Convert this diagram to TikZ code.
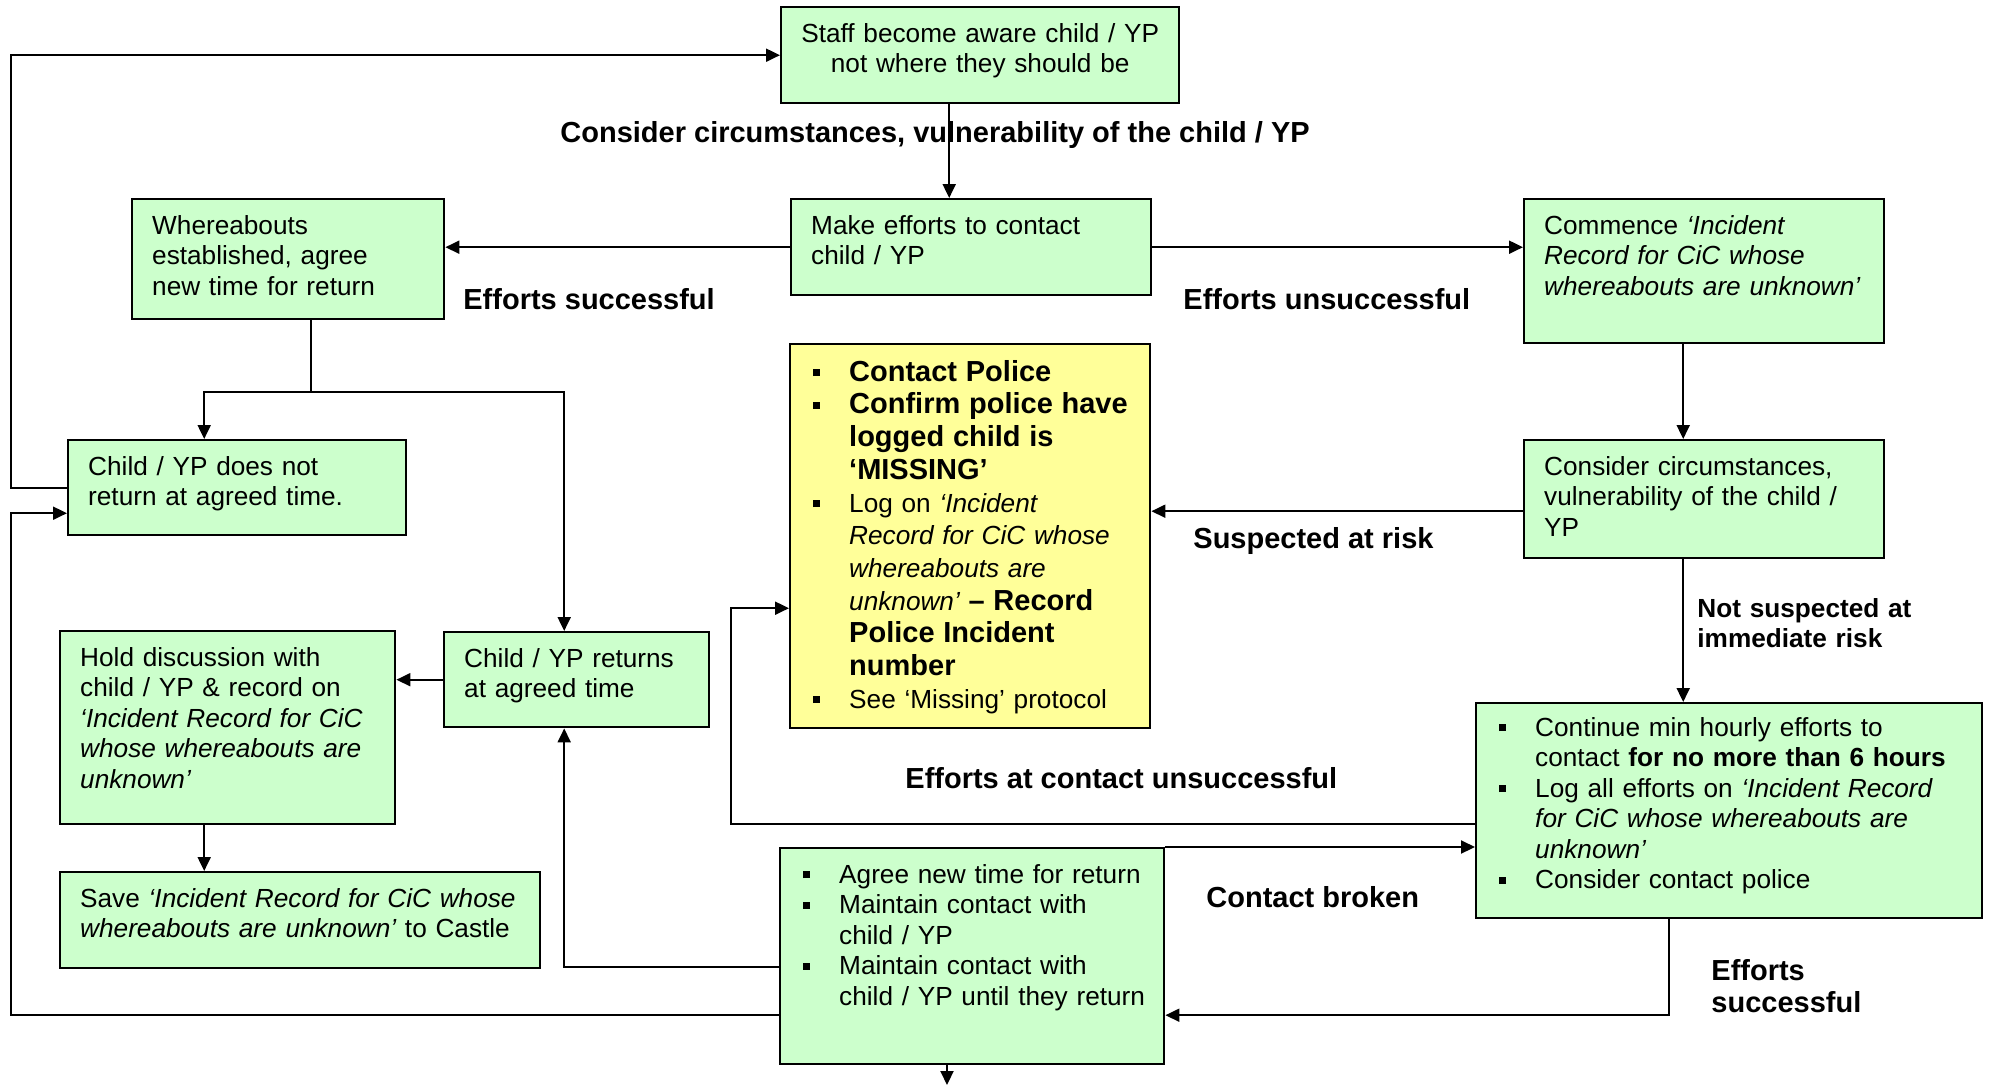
\documentclass[tikz,border=0pt]{standalone}
\usepackage{fontspec}
\setmainfont{Liberation Sans}
\usetikzlibrary{arrows.meta}

\definecolor{cicgreen}{HTML}{CCFFCC}
\definecolor{cicyellow}{HTML}{FFFF99}

\newcommand{\bul}{\hspace*{11.5pt}\makebox[18pt][l]{\rule[2.5pt]{3.5pt}{3.5pt}}}
\newcommand{\cont}{\hspace*{29.5pt}}
\newcommand{\bigbf}[1]{{\fontsize{14.5pt}{16.35pt}\selectfont\bfseries #1}}

\tikzset{
  box/.style={draw, line width=1.2pt, fill=cicgreen, anchor=north west,
    inner xsep=10pt, inner ysep=0pt, align=left, text height=17.5pt,
    font=\fontsize{13.1pt}{15.25pt}\selectfont},
  listbox/.style={box, inner xsep=0pt},
  lbl/.style={font=\fontsize{14.5pt}{16pt}\selectfont\bfseries, inner sep=0pt, anchor=base west},
  arr/.style={line width=1pt, -{Triangle[length=7pt,width=6.5pt]}},
  wire/.style={line width=1pt}
}

\begin{document}
\begin{tikzpicture}[x=0.5pt, y=-0.5pt]
  \useasboundingbox (0,0) rectangle (1995,1087);

  \node[box, align=center, inner xsep=9pt, text width=181pt, text depth=30.5pt] (staff) at (780,6)
    {Staff become aware child / YP\\not where they should be};
  \node[box, text width=160pt, text depth=30.5pt] (make) at (790,198)
    {Make efforts to contact\\child / YP};
  \node[box, text width=136pt, text depth=42.5pt] (where) at (131,198)
    {Whereabouts\\established, agree\\new time for return};
  \node[box, text width=160pt, text depth=54.5pt] (commence) at (1523,198)
    {Commence {\itshape `Incident\\Record for CiC whose\\whereabouts are unknown'}};
  \node[box, text width=149pt, text depth=30pt] (notreturn) at (67,439)
    {Child / YP does not\\return at agreed time.};
  \node[box, text width=112.5pt, text depth=30pt] (returns) at (443,631)
    {Child / YP returns\\at agreed time};
  \node[box, text width=147.5pt, text depth=79pt] (hold) at (59,630)
    {Hold discussion with\\child / YP \& record on\\{\itshape `Incident Record for CiC\\whose whereabouts are\\unknown'}};
  \node[box, inner xsep=0pt, text width=240pt, text depth=30.5pt] (save) at (59,871)
    {\hspace*{10pt}Save {\itshape `Incident Record for CiC whose}\\\hspace*{10pt}{\itshape whereabouts are unknown'} to Castle};
  \node[listbox, fill=cicyellow, text width=180pt, text height=18.5pt, text depth=173.5pt,
    font=\fontsize{13.1pt}{16.35pt}\selectfont] (police) at (789,343)
    {\bul\bigbf{Contact Police}\\
     \bul\bigbf{Confirm police have}\\
     \cont\bigbf{logged child is}\\
     \cont\bigbf{`MISSING'}\\
     \bul Log on {\itshape `Incident}\\
     \cont{\itshape Record for CiC whose}\\
     \cont{\itshape whereabouts are}\\
     \cont{\itshape unknown'} \bigbf{-- Record}\\
     \cont\bigbf{Police Incident}\\
     \cont\bigbf{number}\\
     \bul See `Missing' protocol};
  \node[box, text width=160pt, text depth=41.5pt] (consider) at (1523,439)
    {Consider circumstances,\\vulnerability of the child /\\YP};
  \node[listbox, text width=253pt, text height=16.5pt, text depth=91pt] (continue) at (1475,702)
    {\bul Continue min hourly efforts to\\
     \cont contact \textbf{for no more than 6 hours}\\
     \bul Log all efforts on {\itshape `Incident Record}\\
     \cont{\itshape for CiC whose whereabouts are}\\
     \cont{\itshape unknown'}\\
     \bul Consider contact police};
  \node[listbox, text width=192pt, text depth=90.5pt] (agree) at (779,847)
    {\bul Agree new time for return\\
     \bul Maintain contact with\\
     \cont child / YP\\
     \bul Maintain contact with\\
     \cont child / YP until they return};

  \node[lbl] (lcons) at (560,142) {Consider circumstances, vulnerability of the child / YP};
  \node[lbl] (lsucc) at (463,309) {Efforts successful};
  \node[lbl] (lunsucc) at (1183,309) {Efforts unsuccessful};
  \node[lbl] (lrisk) at (1193,548) {Suspected at risk};
  \node[lbl, font=\fontsize{13.1pt}{15.25pt}\selectfont\bfseries, text width=125pt, align=left]
    (lnotrisk) at (1697,617) {Not suspected at\\immediate risk};
  \node[lbl] (lcontact) at (905,788) {Efforts at contact unsuccessful};
  \node[lbl] (lbroken) at (1206,907) {Contact broken};
  \node[lbl, text width=80pt, align=left] (lsucc2) at (1711,980) {Efforts\\successful};

  \coordinate (lrail) at (11,0);
  \coordinate (split) at ([xshift=11.5pt,yshift=-36pt]where.south);
  \coordinate (lpol) at ([xshift=-29pt,yshift=-36pt]police.west);
  \coordinate (out) at (947,1085);

  \draw[arr] (notreturn.west) -- (notreturn.west -| lrail) |- (staff.west);
  \draw[arr] ([xshift=-11pt]make.north |- staff.south) -- ([xshift=-11pt]make.north);
  \draw[arr] (make.west) -- (make.west -| where.east);
  \draw[arr] (make.east) -- (make.east -| commence.west);
  \draw[wire] (where.south -| split) -- (split);
  \draw[arr] (split) -| ([xshift=-16.5pt]notreturn.north);
  \draw[arr] (split) -| ([xshift=-6.25pt]returns.north);
  \draw[arr] (returns.west) -- (returns.west -| hold.east);
  \draw[arr] ([xshift=-11.75pt]hold.south) -- ([xshift=-11.75pt]hold.south |- save.north);
  \draw[arr] ([yshift=-5.5pt]agree.west) -| ([xshift=-6.25pt]returns.south);
  \draw[arr] ([yshift=-29.5pt]agree.west) -- ([yshift=-29.5pt]agree.west -| lrail)
    |- ([yshift=-12.75pt]notreturn.west);
  \draw[arr] (out |- agree.south) -- (out);
  \draw[arr] (agree.north east) -- (agree.north east -| continue.west);
  \draw[arr] ([yshift=-6.75pt]continue.west) -| (lpol) -- ([yshift=-36pt]police.west);
  \draw[arr] ([xshift=-30pt]continue.south) |- ([yshift=-29.5pt]agree.east);
  \draw[arr] ([xshift=-10.5pt]commence.south) -- ([xshift=-10.5pt]commence.south |- consider.north);
  \draw[arr] ([yshift=-6pt]consider.west) -- ([yshift=-6pt]consider.west -| police.east);
  \draw[arr] ([xshift=-10.5pt]consider.south) -- ([xshift=-10.5pt]consider.south |- continue.north);
\end{tikzpicture}
\end{document}
